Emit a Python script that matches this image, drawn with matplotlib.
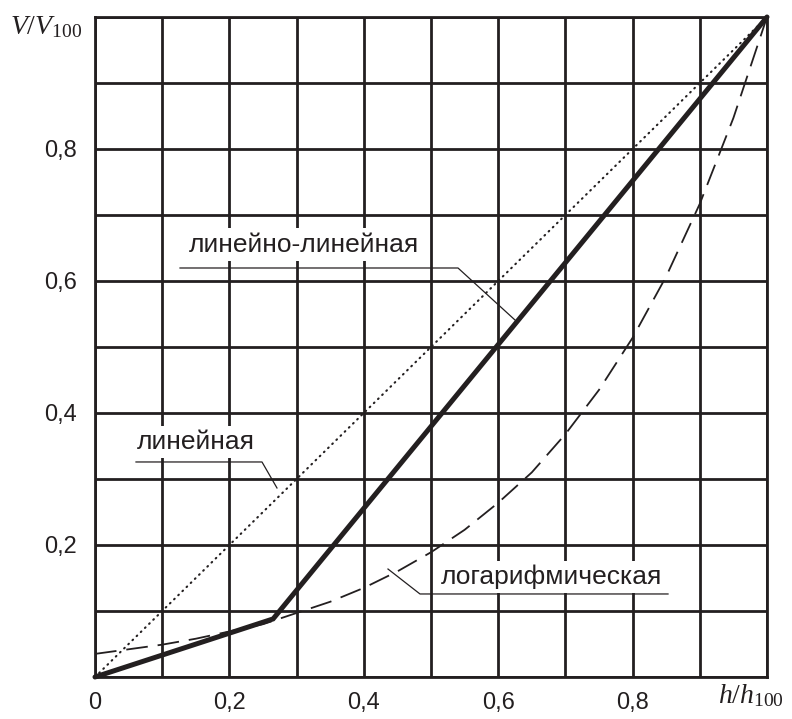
import numpy as np
import matplotlib
matplotlib.use("Agg")
import matplotlib.pyplot as plt

plt.rcParams['font.family'] = ['Liberation Sans', 'DejaVu Sans']
plt.rcParams['mathtext.fontset'] = 'custom'
plt.rcParams['mathtext.rm'] = 'Liberation Serif'
plt.rcParams['mathtext.it'] = 'Liberation Serif:italic'

# ---- data ----
h_linear = [0.0, 1.0]
v_linear = [0.0, 1.0]

h_linlin = [0.0, 0.265, 1.0]
v_linlin = [0.0, 0.088, 1.0]

h_log = [0.0, 0.05, 0.1, 0.15, 0.2, 0.25, 0.3, 0.35, 0.4, 0.45, 0.5,
         0.55, 0.6, 0.65, 0.7, 0.75, 0.8, 0.85, 0.9, 0.95, 1.0]
v_log = [0.035, 0.042, 0.049, 0.058, 0.069, 0.080, 0.097, 0.114, 0.135, 0.160, 0.189,
         0.223, 0.264, 0.310, 0.368, 0.435, 0.514, 0.607, 0.717, 0.847, 1.0]

x_grid = [0.0, 0.1, 0.2, 0.3, 0.4, 0.5, 0.6, 0.7, 0.8, 0.9, 1.0]
x_labels = ["0", "", "0,2", "", "0,4", "", "0,6", "", "0,8", "", ""]
y_grid = [0.0, 0.1, 0.2, 0.3, 0.4, 0.5, 0.6, 0.7, 0.8, 0.9, 1.0]
y_labels = ["", "", "0,2", "", "0,4", "", "0,6", "", "0,8", "", ""]

label_linlin = "линейно-линейная"
label_linear = "линейная"
label_log = "логарифмическая"

INK = '#231f20'

fig = plt.figure(figsize=(7.92, 7.19), dpi=100)
ax = fig.add_axes([95/792, 42/719, 672/792, 660/719])
ax.set_xlim(0, 1)
ax.set_ylim(0, 1)

ax.set_xticks(x_grid)
ax.set_xticklabels(x_labels)
ax.set_yticks(y_grid)
ax.set_yticklabels(y_labels)
ax.tick_params(length=0, labelsize=17, colors=INK)
ax.tick_params(axis='x', pad=11)
ax.tick_params(axis='y', pad=13)
ax.grid(True, color=INK, lw=2)
ax.set_axisbelow(True)
for s in ax.spines.values():
    s.set_color(INK)
    s.set_linewidth(2)
    s.set_zorder(0.5)

ax.plot(h_linear, v_linear, color=INK, lw=1.5, linestyle=(0, (0.4, 2.4)),
        dash_capstyle='round', zorder=3, clip_on=False)
ax.plot(h_log, v_log, color=INK, lw=1.3, linestyle=(0, (12, 5.5)), zorder=3, clip_on=False)
ax.plot(h_linlin, v_linlin, color=INK, lw=3.6, solid_capstyle='round',
        solid_joinstyle='miter', zorder=4, clip_on=False)

bbox = dict(facecolor='white', edgecolor='none', pad=3)
# labels + leader lines
ax.text(0.311, 0.655, label_linlin, fontsize=19, ha='center', va='center',
        color=INK, bbox=bbox, zorder=2)
ax.plot([0.1265, 0.5402, 0.625], [0.6197, 0.6197, 0.5409], color=INK, lw=0.9, zorder=5)

ax.text(0.150, 0.356, label_linear, fontsize=19, ha='center', va='center',
        color=INK, bbox=bbox, zorder=2)
ax.plot([0.061, 0.2485, 0.2708], [0.3258, 0.3258, 0.2864], color=INK, lw=0.9, zorder=5)

ax.text(0.680, 0.1515, label_log, fontsize=19, ha='center', va='center',
        color=INK, bbox=bbox, zorder=2)
ax.plot([0.436, 0.4836, 0.8527], [0.1636, 0.1258, 0.1258], color=INK, lw=0.9, zorder=5)

fig.text(10/792, 1 - 34/719, r'$V/V_{\mathrm{100}}$', fontsize=20, color=INK,
         ha='left', va='baseline')
fig.text(718/792, 1 - 703/719, r'$h/h_{\mathrm{100}}$', fontsize=20, color=INK,
         ha='left', va='baseline')

fig.savefig('out.png', dpi=100)
